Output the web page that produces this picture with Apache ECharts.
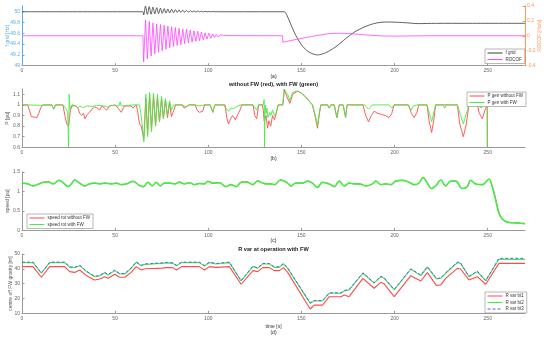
<!DOCTYPE html>
<html><head><meta charset="utf-8">
<script src="https://cdn.jsdelivr.net/npm/echarts@6/dist/echarts.min.js"></script>
<style>html,body{margin:0;padding:0;background:#fff}#c{width:550px;height:337px}</style>
</head><body><div id="c"></div>
<script>
// ---------- DATA ----------
const xTicks = [0, 50, 100, 150, 200, 250];

// (a) f grid [Hz] (left axis) : [time, value]
const fGrid = [[0,50],[64.9,50],[65.3,49.94],[66.3,50.105],[67.3,49.95],[68.3,50.095],[69.3,49.955],[70.3,50.085],[71.3,49.96],[72.3,50.075],[73.3,49.965],[74.3,50.065],[75.3,49.97],[76.3,50.058],[77.3,49.975],[78.3,50.05],[79.3,49.978],[80.3,50.044],[81.3,49.982],[82.3,50.038],[83.3,49.985],[84.3,50.033],[85.3,49.987],[86.3,50.028],[87.3,49.99],[88.3,50.024],[89.3,49.992],[90.3,50.02],[91.3,49.994],[92.3,50.016],[93.3,49.995],[94.3,50.013],[95.3,49.996],[96.3,50.01],[97.3,49.997],[98.3,50.008],[99.3,49.998],[100.3,50.006],[101.3,49.999],[102.3,50.004],[103.3,50],[104.3,50.002],[106,50],[140.8,50],[142,49.95],[143.5,49.83],[147,49.56],[150.6,49.36],[154.2,49.25],[158.6,49.2],[163,49.24],[168.4,49.35],[173.7,49.5],[178.3,49.62],[184.6,49.73],[190,49.79],[195.3,49.81],[204.2,49.8],[213,49.78],[222,49.785],[240,49.785],[270,49.785]];
// (a) ROCOF [Hz/s] (right axis)
const rocof = [[0,0],[64.9,0],[65.3,-0.35],[66.3,0.21],[67.3,-0.31],[68.3,0.19],[69.3,-0.27],[70.3,0.17],[71.3,-0.24],[72.3,0.16],[73.3,-0.22],[74.3,0.15],[75.3,-0.2],[76.3,0.14],[77.3,-0.18],[78.3,0.13],[79.3,-0.16],[80.3,0.12],[81.3,-0.145],[82.3,0.11],[83.3,-0.13],[84.3,0.1],[85.3,-0.12],[86.3,0.09],[87.3,-0.105],[88.3,0.085],[89.3,-0.095],[90.3,0.075],[91.3,-0.085],[92.3,0.065],[93.3,-0.075],[94.3,0.06],[95.3,-0.065],[96.3,0.05],[97.3,-0.055],[98.3,0.04],[99.3,-0.045],[100.3,0.035],[101.3,-0.035],[102.3,0.025],[103.3,-0.025],[104.3,0.018],[105.3,-0.018],[106.3,0.012],[107.3,-0.01],[108.3,0.006],[109.3,-0.004],[110.3,0.002],[111,0],[139.9,0],[140,-0.087],[145,-0.06],[150,-0.035],[155,-0.012],[160,0.01],[165,0.028],[170,0.034],[175,0.03],[180,0.02],[185,0.01],[190,0.002],[195,-0.004],[200,-0.005],[210,-0.002],[220,0],[270,0]];

// (b) P [pu]
const pWithout = [[0,1],[3,1],[4,0.95],[5,0.89],[6,0.875],[8,0.88],[9,0.92],[10,0.97],[11,1],[16,1],[17,0.96],[18,1],[22,1],[23,0.9],[24,0.82],[25,0.8],[26,0.95],[27,1],[29,0.99],[30,0.97],[31,0.92],[32,0.9],[33,0.92],[33.8,0.87],[35,0.91],[36.3,0.93],[37.5,0.96],[39,0.98],[40.5,0.97],[41.6,0.95],[43,0.99],[44.3,0.97],[45.5,0.95],[47,0.99],[50,1],[51.5,0.97],[53.3,0.93],[55,0.99],[58.6,0.99],[59.5,0.97],[60.5,0.98],[61.3,1],[62,0.95],[63.1,0.82],[64,0.8],[65.4,0.68],[66.5,1.06],[67.4,0.72],[68.5,1.1],[69.5,0.75],[70.6,1.09],[71.7,0.8],[72.7,1.08],[73.8,0.84],[74.9,1.06],[75.9,0.87],[77,1.04],[78.1,0.88],[79.2,1.02],[80.2,0.89],[81.5,0.95],[82.5,1],[86,1],[87,0.97],[88,0.96],[89.5,1],[93,1],[94,0.95],[95.2,0.93],[97,0.94],[98,1],[101,1],[102.4,0.93],[103.5,1],[109,1],[110,0.87],[110.9,0.82],[112,0.87],[113,0.9],[114.5,0.86],[115.5,0.85],[117,0.95],[118,1],[124,1],[125,0.9],[126,0.87],[127,1],[129,1],[129.5,0.95],[130,0.85],[131,0.9],[131.8,0.78],[132.5,0.85],[133.5,0.8],[134.5,0.9],[135.5,0.86],[136.5,0.92],[137.5,1],[140,1],[140.8,1.15],[141.7,1.1],[142.6,1.06],[143.8,1.015],[145.3,1.1],[148,1.13],[150,1.11],[152,1.08],[154,1.04],[155.9,1],[157.5,0.88],[158.6,0.78],[159.5,0.9],[160.4,1],[164,1],[164.9,0.97],[165.8,1],[167.6,1],[169,0.88],[170.3,1],[172.4,1],[173.7,0.88],[174.5,1],[183,1],[184.5,0.9],[186,0.84],[187.5,0.9],[189,0.94],[191,0.92],[193,0.91],[195,0.9],[197,0.88],[198.5,0.92],[199.7,1],[207.5,1],[209,0.92],[210.5,0.88],[212,0.93],[213,1],[217.4,1],[218.5,0.85],[219.9,0.74],[221,0.85],[222,1],[233.7,1],[235,0.82],[236.9,0.7],[238.5,0.82],[239.9,1],[244.4,1],[245.5,0.92],[247.1,0.87],[248.5,0.95],[249.7,1],[249.8,0.6],[250,0],[270,0]];
const pWith = [[0,1],[3,1],[4,0.995],[11,0.995],[12,1],[16,1],[17,0.96],[18,1],[22,1],[23.5,0.97],[24.5,0.93],[25,0.6],[25.3,1.1],[25.8,0.96],[26.5,0.99],[27,1],[29,0.99],[30,0.97],[31,0.99],[33,0.975],[35,0.99],[38,0.985],[40,0.995],[44,0.99],[46,0.98],[48,0.995],[52,0.99],[52.7,1.03],[53.2,0.99],[56,0.995],[60,1],[63,1],[64,0.9],[65.4,0.65],[66.5,1.1],[67.4,0.7],[68.5,1.12],[69.5,0.75],[70.6,1.11],[71.7,0.8],[72.7,1.1],[73.8,0.84],[74.9,1.08],[75.9,0.87],[77,1.06],[78.1,0.9],[79.2,1.04],[80.2,0.95],[81.3,1],[86,1],[88,0.98],[90,1],[93,1],[95,0.99],[98,1],[101,1],[102.4,0.93],[103.5,1],[108,1],[110.9,0.94],[112,0.97],[113.5,0.965],[115,0.98],[117,1],[124,1],[126,0.95],[127,1],[129.5,1],[130,1.05],[130.2,0.6],[130.5,1],[131,0.92],[131.5,0.97],[132,0.88],[133,0.93],[133.5,0.9],[134.5,0.95],[135.5,0.9],[136.5,0.93],[137.5,1],[140,1],[140.8,1.15],[141.7,1.12],[142.6,1.1],[143.8,1.04],[145.3,1.12],[148,1.13],[150,1.11],[152,1.08],[154,1.04],[155.9,1],[157.5,0.9],[158.6,0.8],[159.5,0.92],[160.4,1],[164,1],[164.9,0.97],[165.8,1],[167.6,1],[169,0.88],[170.3,1],[172.4,1],[173.7,0.88],[174.5,1],[184,1],[186,0.96],[188,1],[197,1],[198.5,0.97],[199.7,1],[207,1],[208.8,0.95],[210,0.99],[212,1],[217.4,1],[219.9,0.84],[222,1],[226,1],[226.9,0.97],[227.8,1],[233.7,1],[236.9,0.82],[239.9,1],[244.4,1],[246.5,0.97],[248,1],[249.7,1],[249.8,0.6],[250,0],[270,0]];

// (c) speed [pu]
const speedTime = [0,3.2,5.9,8.6,11.3,13.9,16.7,19.9,22.4,24.7,26.5,28.3,31,33.7,36.3,39,41.7,44.4,48,50.6,53.3,56,59.5,63.1,65.2,67.6,69.9,72,74.2,76.5,79.2,81.9,84.5,87.2,89.9,92.5,95.2,97.9,99.7,102.4,106,109.5,112.2,114.9,117.6,120.2,122,123.8,126.5,129.2,131,133.5,135.6,138.7,142.6,144.4,147,150.6,153.3,155.9,158.6,161.3,164.9,167.6,170.3,173,175.6,178.3,181,184.6,188.1,189.9,192.6,195.3,198,200.6,204.2,207.8,210.5,213.1,215.3,217.6,219.7,222.1,224.8,227.4,230.1,232.8,236.3,239,240.8,243.5,247.1,250.6,252.4,254.2,256,257.8,260.5,264.9,267.6,270];
const speedWithout = [1.21,1.19,1.14,1.18,1.23,1.25,1.19,1.28,1.21,1.12,1.19,1.29,1.21,1.14,1.19,1.21,1.19,1.21,1.19,1.21,1.17,1.19,1.26,1.15,1.12,1.23,1.14,1.23,1.14,1.21,1.21,1.19,1.24,1.19,1.22,1.17,1.2,1.19,1.26,1.21,1.22,1.12,1.17,1.12,1.23,1.25,1.22,1.17,1.27,1.21,1.19,1.19,1.17,1.29,1.21,1.13,1.21,1.21,1.26,1.21,1.1,1.23,1.19,1.12,1.26,1.14,1.21,1.19,1.19,1.14,1.19,1.26,1.17,1.19,1.17,1.27,1.28,1.23,1.17,1.21,1.35,1.21,1.07,1.14,1.29,1.14,1.26,1.26,1.07,1.12,1.28,1.19,1.17,1.31,1.13,0.82,0.47,0.3,0.21,0.19,0.18,0.17];
const speedWith = [1.21,1.19,1.14,1.18,1.23,1.24,1.19,1.28,1.21,1.12,1.19,1.29,1.21,1.14,1.19,1.21,1.19,1.21,1.19,1.21,1.17,1.19,1.25,1.15,1.12,1.23,1.14,1.23,1.14,1.21,1.21,1.19,1.23,1.19,1.22,1.17,1.2,1.19,1.25,1.21,1.22,1.12,1.17,1.12,1.23,1.24,1.21,1.17,1.26,1.21,1.19,1.19,1.17,1.29,1.21,1.14,1.21,1.21,1.26,1.21,1.1,1.23,1.19,1.12,1.26,1.14,1.21,1.19,1.19,1.14,1.19,1.26,1.17,1.19,1.17,1.26,1.28,1.23,1.17,1.21,1.35,1.21,1.07,1.14,1.29,1.14,1.26,1.26,1.07,1.12,1.28,1.19,1.17,1.31,1.12,0.78,0.44,0.29,0.21,0.19,0.18,0.17];

// (d) centre off FW gravity [m]
const rTime = [0,5.9,10.4,14.9,22.9,25.6,28.3,31,34.6,39,41.7,44.4,46.2,49.8,52.4,55.2,58.6,61.3,64,66,67,69,70,72,73,75,76,78,79,81,82.9,85.6,95.2,97.9,100.6,104.2,111.3,117.6,124,126.5,129.2,132.8,135.4,138.1,140.3,142.6,154.7,156.8,161.3,164.9,171.2,173,175.6,183,189,192.6,194.4,199.8,208.7,214.1,217.6,222.5,224.8,227.4,233.7,235.4,239.9,244.4,248.9,256,270];
const rBt1 = [41.5,41.5,34.3,41.5,41.5,38.1,37.6,39.2,35.4,32.5,33.1,34.7,33.6,36.3,34.3,34.3,37.6,41.5,39.2,40,38.8,40.2,39,40.3,39.3,40.5,39.6,40.8,40,40.8,39.2,41.5,41.5,39.2,41.5,41,41.5,29.6,38.8,38.1,40.8,40.8,38.8,38.8,40.8,37.6,12.9,15.5,15.5,21.2,21.2,22.3,21.2,33.6,26.9,30.9,29.9,21.2,35.4,31.8,37.4,28.7,29.2,33.6,40.3,39.9,32.5,34.7,29.6,43.7,43.7];
const rBt2 = [44.2,44.2,37,44.2,44.2,41,40.8,42.1,38.1,34.7,35.2,37.4,35.8,38.8,36.5,36.5,40.3,44.4,42.1,43,42,43.2,42.3,43.5,42.6,43.7,42.9,44,43.3,43.7,42.1,44.2,44.2,41.9,44.2,43.3,44.2,31.8,41.5,40.3,43.3,43.3,41,41,43.3,40.3,16.7,18.3,18.3,23.5,23.5,25.1,25.8,37,30.3,34.7,33.6,25.8,39.7,35.4,41.2,33.1,33.6,37,44.2,43.7,34.7,38.1,31.8,46.4,46.4];
const rBt3 = [44.5,44.5,37.3,44.5,44.5,41.3,41.1,42.4,38.4,35,35.5,37.7,36.1,39.1,36.8,36.8,40.6,44.7,42.4,43.3,42.3,43.5,42.6,43.8,42.9,44,43.2,44.3,43.6,44,42.4,44.5,44.5,42.2,44.5,43.6,44.5,32.1,41.8,40.6,43.6,43.6,41.3,41.3,43.6,40.6,17,18.6,18.6,23.8,23.8,25.4,26.1,37.3,30.6,35,33.9,26.1,40,35.7,41.5,33.4,33.9,37.3,44.5,44,35,38.4,32.1,47.1,47.1];

// ---------- CHART ----------
const FONT = 'Liberation Sans, Arial, Helvetica, sans-serif';
const zip = (t, v) => t.map((x, i) => [x, v[i]]);
const grids = [
  {left: 22, right: 25, top: 5.8, height: 59.9},
  {left: 22, right: 25, top: 89, height: 58.3},
  {left: 22, right: 25, top: 171.8, height: 58.5},
  {left: 22, right: 25, top: 254, height: 59.3}
].map(g => Object.assign(g, {outerBoundsMode: 'none', containLabel: false}));

const gray = '#9a9a9a';
function xAx(i, extra) {
  return Object.assign({
    type: 'value', gridIndex: i, min: 0, max: 270, interval: 50,
    axisLine: {onZero: false, lineStyle: {color: gray, width: 1}},
    axisTick: {inside: true, length: 2.5, lineStyle: {color: gray}},
    axisLabel: {fontSize: 5, color: '#666', margin: 2.5, fontFamily: FONT, showMaxLabel: false,
      formatter: v => xTicks.includes(v) ? String(v) : ''},
    splitLine: {show: false}
  }, extra || {});
}
function yAx(i, min, max, interval, name, gap, color, extra) {
  return Object.assign({
    type: 'value', gridIndex: i, min, max, interval,
    name, nameLocation: 'middle', nameGap: gap, nameMoveOverlap: false,
    nameTextStyle: {fontSize: 5, color: color || '#555', fontFamily: FONT},
    axisLine: {show: true, onZero: false, lineStyle: {color: color || gray, width: 1}},
    axisTick: {show: true, inside: true, length: 2.5, lineStyle: {color: color || gray}},
    axisLabel: {fontSize: 5, color: color || '#666', margin: 2, fontFamily: FONT, showMaxLabel: false},
    splitLine: {show: false}
  }, extra || {});
}
const blueAx = '#5aaee6', orangeAx = '#ff9455';

const yAxes = [
  yAx(0, 49, 50.11, 0.2, 'f grid [Hz]', 12, blueAx),
  yAx(0, -0.4, 0.4, 0.2, 'ROCOF [Hz/s]', 12.5, orangeAx, {position: 'right', axisLabel: {fontSize: 5, color: orangeAx, margin: 2, fontFamily: FONT}}),
  yAx(1, 0.6, 1.15, 0.1, 'P [pu]', 11.5),
  yAx(2, 0, 1.5, 0.5, 'speed [pu]', 11.5, null, {axisLabel: {fontSize: 5, color: '#666', margin: 2, fontFamily: FONT}}),
  yAx(3, 10, 50, 10, 'centre off FW gravity [m]', 8.5, null, {axisLabel: {fontSize: 5, color: '#666', margin: 2, fontFamily: FONT}})
];

function ln(name, data, xi, yi, color, width, extra) {
  return Object.assign({
    type: 'line', name, data, xAxisIndex: xi, yAxisIndex: yi,
    symbol: 'none', showSymbol: false, clip: true, animation: false,
    lineStyle: {color, width}, itemStyle: {color}
  }, extra || {});
}
const RED = '#ff4b4b', GREEN = '#46ec46', BLUE = '#5a5aff', PINK = '#ff45ff', BLACK = '#3a3a3a';

const legendBase = {
  orient: 'vertical', itemWidth: 15, itemHeight: 4, itemGap: 1.5,
  padding: [1.5, 3, 1.5, 2], borderColor: '#888', borderWidth: 0.6, borderRadius: 0,
  backgroundColor: '#fff', selectedMode: false, align: 'left',
  textStyle: {fontSize: 4.5, color: '#333', fontFamily: FONT, padding: [0, 0, 0, -2]},
  itemStyle: {opacity: 0},
  lineStyle: {width: 1}
};
const lg = (o) => Object.assign({}, legendBase, o);

function txt(text, x, y, size, bold) {
  return {type: 'text', x, y, silent: true,
    style: {text, align: 'center', verticalAlign: 'middle', fontSize: size, fontWeight: bold ? 'bold' : 'normal', fontFamily: FONT, fill: '#222'}};
}

const option = {
  animation: false,
  backgroundColor: '#fff',
  grid: grids,
  xAxis: [xAx(0), xAx(1), xAx(2), xAx(3, {name: 'time [s]', nameLocation: 'middle', nameGap: 10.5, nameMoveOverlap: false,
    nameTextStyle: {fontSize: 5, color: '#333', fontFamily: FONT}})],
  yAxis: yAxes,
  legend: [
    lg({left: 485, top: 49, data: ['f grid', 'ROCOF']}),
    lg({left: 467, top: 92, data: ['P gen without FW', 'P gen with FW']}),
    lg({left: 27, top: 214, data: ['speed rot without FW', 'speed rot with FW']}),
    lg({left: 485, top: 292, data: ['R var bt1', 'R var bt2', 'R var bt3']})
  ],
  graphic: [
    txt('(a)', 273.5, 77, 5),
    txt('without FW (red), with FW (green)', 273.5, 84.5, 5.6, true),
    txt('(b)', 273.5, 159, 5),
    txt('(c)', 273.5, 241, 5),
    txt('R var at operation with FW', 273.5, 249.5, 5.6, true),
    txt('(d)', 273.5, 332.5, 5)
  ],
  series: [
    ln('f grid', fGrid, 0, 0, BLACK, 0.8, {smooth: 0.3}),
    ln('ROCOF', rocof, 0, 1, PINK, 0.8),
    ln('P gen without FW', pWithout, 1, 2, RED, 0.9),
    ln('P gen with FW', pWith, 1, 2, GREEN, 0.9),
    ln('speed rot without FW', zip(speedTime, speedWithout), 2, 3, RED, 1, {smooth: 0.4}),
    ln('speed rot with FW', zip(speedTime, speedWith), 2, 3, GREEN, 1.6, {smooth: 0.4}),
    ln('R var bt1', zip(rTime, rBt1), 3, 4, RED, 1.1),
    ln('R var bt2', zip(rTime, rBt2), 3, 4, GREEN, 1.1),
    ln('R var bt3', zip(rTime, rBt3), 3, 4, BLUE, 1, {lineStyle: {color: BLUE, width: 1, type: [3, 2]}})
  ]
};
const chart = echarts.init(document.getElementById('c'), null, {renderer: 'canvas'});
chart.setOption(option);
</script></body></html>
